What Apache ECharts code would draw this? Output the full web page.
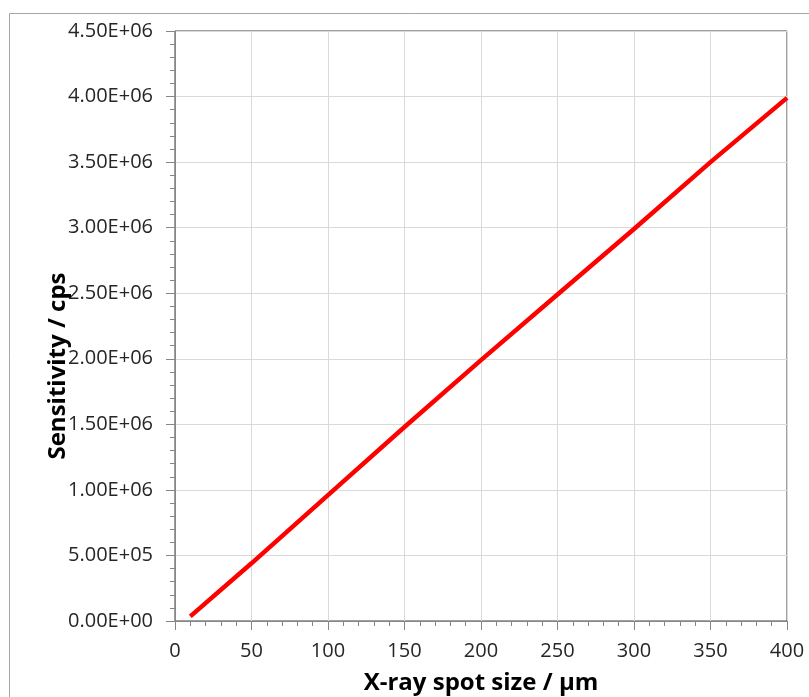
<!DOCTYPE html>
<html>
<head>
<meta charset="utf-8">
<script src="https://cdn.jsdelivr.net/npm/echarts@6/dist/echarts.min.js"></script>
<style>
html,body{margin:0;padding:0;background:#fff;}
#chart{width:809px;height:697px;}
</style>
</head>
<body>
<div id="chart"></div>
<script>
// Data
const spotSize = [10, 50, 100, 150, 200, 250, 300, 350, 400];            // µm
const sensitivity = [3.5e4, 4.4e5, 9.6e5, 1.48e6, 1.99e6, 2.49e6, 2.99e6, 3.5e6, 3.99e6]; // cps
const xTitle = 'X-ray spot size / µm';
const yTitle = 'Sensitivity / cps';

function sci(v) {
  if (v === 0) return '0.00E+00';
  const e = Math.floor(Math.log10(v) + 1e-9);
  const m = v / Math.pow(10, e);
  return m.toFixed(2) + 'E+' + String(e).padStart(2, '0');
}

const chart = echarts.init(document.getElementById('chart'), null, {renderer: 'canvas'});
const font = 'Open Sans';
chart.setOption({
  animation: false,
  backgroundColor: '#fff',
  grid: {left: 175, top: 31, right: 22, bottom: 76, show: true, borderColor: '#404040', borderWidth: 1,
         containLabel: false, outerBoundsMode: 'none'},
  xAxis: {
    type: 'value', min: 0, max: 400, interval: 50,
    name: xTitle, nameLocation: 'middle', nameGap: 50,
    nameTextStyle: {fontFamily: font, fontSize: 24, fontWeight: 'bold', color: '#000'},
    axisLine: {show: true, lineStyle: {color: '#868686', width: 1}},
    axisTick: {show: true, length: 9, lineStyle: {color: '#868686'}},
    minorTick: {show: true, splitNumber: 5, length: 5, lineStyle: {color: '#868686'}},
    splitLine: {show: true, lineStyle: {color: '#d9d9d9', width: 1}},
    axisLabel: {fontFamily: font, fontSize: 20, color: '#262626', margin: 20}
  },
  yAxis: {
    type: 'value', min: 0, max: 4.5e6, interval: 5e5,
    axisLine: {show: true, lineStyle: {color: '#868686', width: 1}},
    axisTick: {show: true, length: 9, lineStyle: {color: '#868686'}},
    minorTick: {show: true, splitNumber: 5, length: 5, lineStyle: {color: '#868686'}},
    splitLine: {show: true, lineStyle: {color: '#d9d9d9', width: 1}},
    axisLabel: {fontFamily: font, fontSize: 20, color: '#262626', margin: 22, formatter: sci}
  },
  graphic: [
    {type: 'rect', left: 7, top: 11, z: 100, silent: true,
     shape: {x: 0.5, y: 0.5, width: 900, height: 900},
     style: {fill: 'none', stroke: '#a6a6a6', lineWidth: 1}},
    {type: 'text', x: 58, y: 366, rotation: Math.PI / 2, z: 100,
     style: {text: yTitle, fontFamily: font, fontSize: 24, fontWeight: 'bold', fill: '#000',
             align: 'center', verticalAlign: 'middle'}}
  ],
  series: [{
    type: 'line',
    data: spotSize.map((x, i) => [x, sensitivity[i]]),
    symbol: 'none',
    lineStyle: {color: '#ff0000', width: 4.5},
    z: 5
  }]
});
</script>
</body>
</html>
